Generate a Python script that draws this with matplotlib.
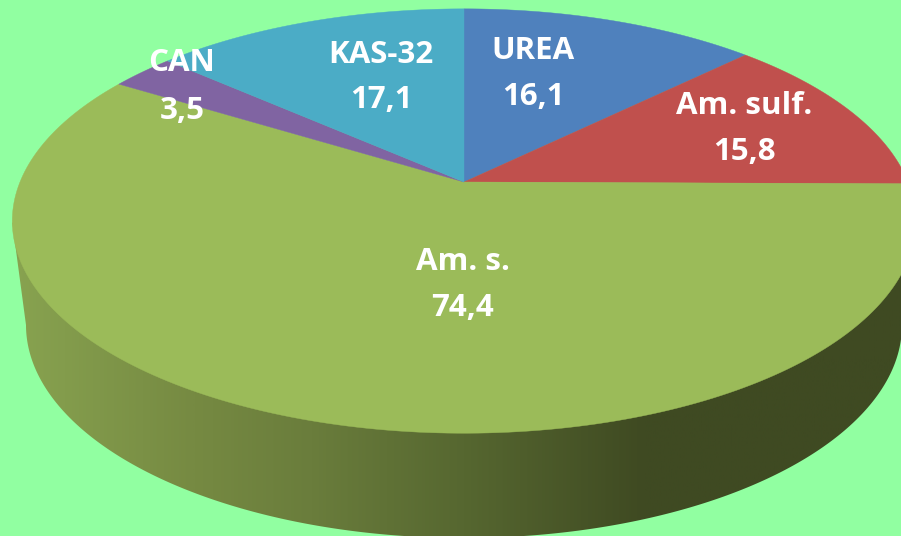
import numpy as np
import matplotlib
matplotlib.use('Agg')
import matplotlib.pyplot as plt
from matplotlib.colors import LinearSegmentedColormap
from matplotlib.patches import Polygon

names = ['UREA', 'Am. sulf.', 'Am. s.', 'CAN', 'KAS-32']
values = [16.1, 15.8, 74.4, 3.5, 17.1]
colors = ['#4F81BD', '#C0504D', '#9BBB59', '#8064A2', '#4BACC6']

BG = '#91FFA1'
WALL = [(0.0, '#88A350'), (0.2, '#768A42'), (0.33, '#6A7D3C'), (0.5, '#566730'),
        (0.7, '#3F4A22'), (1.0, '#3F4A22')]

# pie centre and perspective of the top face, in pixels
CX, CY = 464, 182
A, B, K = 444, 205, 0.184
# ellipse of the bottom rim
BOT_CX, BOT_CY, BOT_A, BOT_B = 464, 325, 438, 213
# label centres, name line then value line
label_pos = [(533, 51, 97), (744, 106, 152), (463, 262, 308), (182, 63, 111), (381, 55, 100)]


def project(theta):
    # theta clockwise from the top of the pie
    u, v = np.sin(theta), np.cos(theta)
    w = 1 + K * v
    return CX + A * u / w, CY - B * v / w


fig = plt.figure(figsize=(9.01, 5.36), dpi=100, facecolor=BG)
ax = fig.add_axes([0, 0, 1, 1])
ax.axis('off')

# side wall, a horizontal gradient clipped to the outline
t = np.linspace(0, 2 * np.pi, 400)
top_x, top_y = project(t)
left = np.argmin(top_x)
right = np.argmax(top_x)
s = np.linspace(np.pi, 0, 300)
wall_x = BOT_CX + BOT_A * np.cos(s)
wall_y = BOT_CY + BOT_B * np.sin(s)
outline = np.column_stack([
    np.r_[top_x[left], wall_x, top_x[right]],
    np.r_[top_y[left], wall_y, top_y[right]],
])
outline = np.vstack([outline, [CX, CY]])
cmap = LinearSegmentedColormap.from_list('wall', WALL)
im = ax.imshow(np.linspace(0, 1, 512)[None, :], cmap=cmap, aspect='auto',
               extent=(12, 916, 540, 180), zorder=1)
clip = Polygon(outline, closed=True, transform=ax.transData, facecolor='none', edgecolor='none')
ax.add_patch(clip)
im.set_clip_path(clip)
ax.set_xlim(0, 901)
ax.set_ylim(536, 0)

# top face, every slice from the values
edges = np.r_[0, np.cumsum(values)] / sum(values) * 2 * np.pi
for i, color in enumerate(colors):
    th = np.linspace(edges[i], edges[i + 1], 200)
    x, y = project(th)
    ax.fill(np.r_[CX, x], np.r_[CY, y], color=color, lw=0.3, zorder=2)

for name, value, (x, y1, y2) in zip(names, values, label_pos):
    ax.text(x, y1, name, color='white', fontsize=22.5, fontweight='bold', family='Open Sans',
            ha='center', va='center', zorder=3)
    ax.text(x, y2, str(value).replace('.', ','), color='white', fontsize=22.5, fontweight='bold',
            family='Open Sans', ha='center', va='center', zorder=3)

fig.savefig('out.png', dpi=100, facecolor=BG)
